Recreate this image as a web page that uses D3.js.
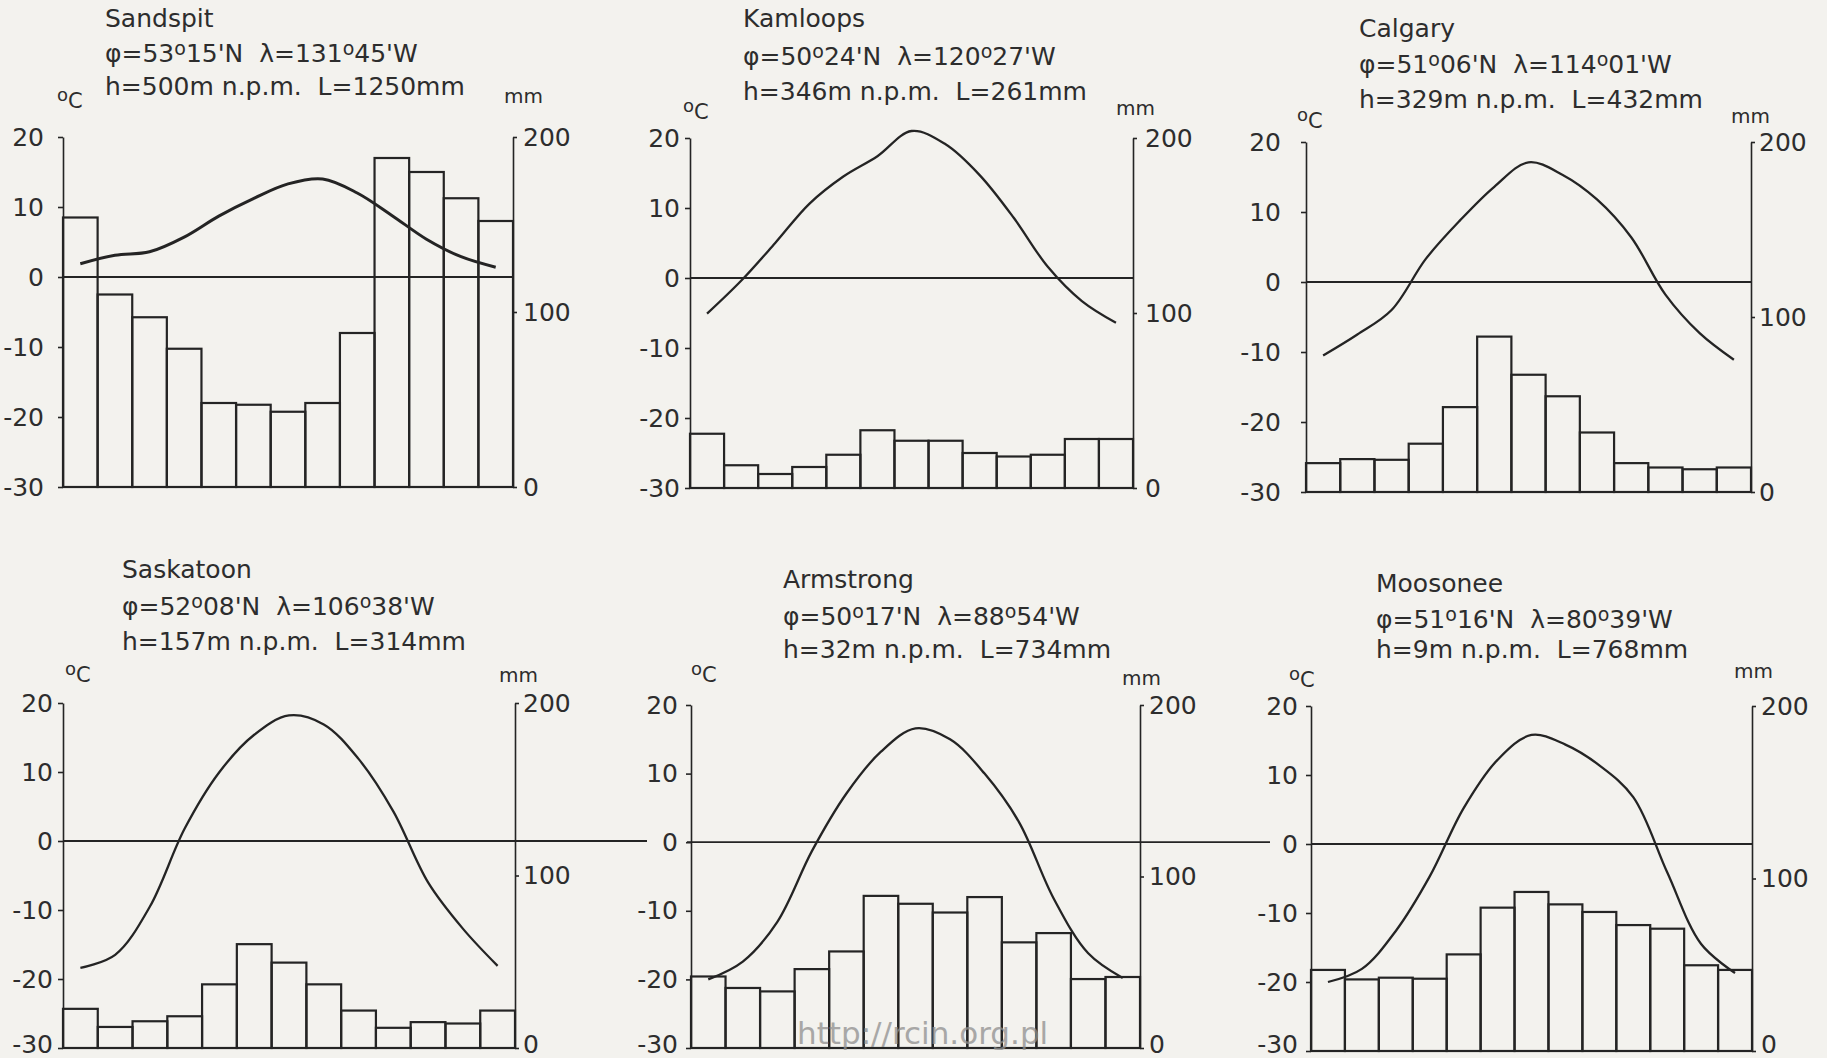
<!DOCTYPE html>
<html>
<head>
<meta charset="utf-8">
<script src="https://cdn.jsdelivr.net/npm/d3@7"></script>
<style>
  body { margin: 0; background: #f3f2ee; }
  svg { display: block; }
  text { font-family: "DejaVu Sans", sans-serif; fill: #2d2d2d; white-space: pre; }
</style>
</head>
<body>
<script>
/**
 * Climate diagrams, six Canadian stations
 * 13 monthly columns each (Jan .. Dec, then Jan again), temperature curve on top
 */
var W = 1827, H = 1058;

// ---- data ----
var stations = ["Sandspit", "Kamloops", "Calgary", "Saskatoon", "Armstrong", "Moosonee"];
var coordLines = [
  "φ=53°15'N  λ=131°45'W",
  "φ=50°24'N  λ=120°27'W",
  "φ=51°06'N  λ=114°01'W",
  "φ=52°08'N  λ=106°38'W",
  "φ=50°17'N  λ=88°54'W",
  "φ=51°16'N  λ=80°39'W"
];
var heightLines = [
  "h=500m n.p.m.  L=1250mm",
  "h=346m n.p.m.  L=261mm",
  "h=329m n.p.m.  L=432mm",
  "h=157m n.p.m.  L=314mm",
  "h=32m n.p.m.  L=734mm",
  "h=9m n.p.m.  L=768mm"
];
var months = ["I", "II", "III", "IV", "V", "VI", "VII", "VIII", "IX", "X", "XI", "XII", "I"];

// temperature, deg C
var sandspitTemp  = [1.9, 3.1, 3.6, 5.7, 8.7, 11.2, 13.3, 14.0, 12.0, 8.8, 5.4, 2.9, 1.4];
var kamloopsTemp  = [-5.1, -0.4, 5.0, 10.6, 14.5, 17.4, 21.0, 19.1, 14.7, 8.6, 1.6, -3.3, -6.4];
var calgaryTemp   = [-10.5, -7.5, -4.0, 3.3, 8.8, 13.6, 17.1, 15.3, 11.8, 6.4, -1.8, -7.3, -11.1];
var saskatoonTemp = [-18.4, -16.5, -9.5, 1.8, 10.0, 15.4, 18.2, 16.9, 11.9, 4.3, -6.0, -12.7, -18.1];
var armstrongTemp = [-20.0, -17.4, -11.6, -1.3, 7.1, 13.2, 16.6, 15.0, 10.0, 2.9, -8.2, -16.2, -19.8];
var moosoneeTemp  = [-20.0, -18.1, -12.6, -4.7, 5.2, 12.2, 15.8, 14.4, 11.4, 6.8, -4.1, -14.5, -18.7];

// precipitation, mm
var sandspitPrec  = [154, 110, 97, 79, 48, 47, 43, 48, 88, 188, 180, 165, 152];
var kamloopsPrec  = [31, 13, 8, 12, 19, 33, 27, 27, 20, 18, 19, 28, 28];
var calgaryPrec   = [16.5, 18.8, 18.4, 27.6, 48.5, 88.8, 67, 54.7, 34, 16.5, 14, 13, 14];
var saskatoonPrec = [22.7, 12.2, 15.5, 18.4, 36.9, 60.2, 49.5, 36.9, 21.7, 11.7, 15, 14.2, 21.7];
var armstrongPrec = [41.7, 35, 33, 46, 56.3, 88.7, 84.1, 79, 88, 61.6, 67, 40.2, 41.4];
var moosoneePrec  = [47, 41.5, 42.5, 41.9, 56, 83.1, 92.2, 85, 80.6, 73, 70.9, 49.7, 47];

var temps = [sandspitTemp, kamloopsTemp, calgaryTemp, saskatoonTemp, armstrongTemp, moosoneeTemp];
var precs = [sandspitPrec, kamloopsPrec, calgaryPrec, saskatoonPrec, armstrongPrec, moosoneePrec];

var tempTicks = [20, 10, 0, -10, -20, -30];
var precTicks = [200, 100, 0];

// ---- layout (pixels), one entry per panel ----
var layout = [
  {left: 63,   right: 513,  top: 137, bottom: 487,  hx: 105,  hy: [27, 62, 95],    cx: 57,   cy: 108, mx: 504,  my: 103, lpad: 14, rpad: 6,  z0: 63,   z1: 513,  lw: 3},
  {left: 690,  right: 1133, top: 138, bottom: 488,  hx: 743,  hy: [27, 65, 100],   cx: 683,  cy: 119, mx: 1116, my: 115, lpad: 5,  rpad: 8,  z0: 690,  z1: 1133, lw: 2.3},
  {left: 1306, right: 1751, top: 142, bottom: 492,  hx: 1359, hy: [37, 73, 108],   cx: 1297, cy: 128, mx: 1731, my: 123, lpad: 20, rpad: 4,  z0: 1306, z1: 1751, lw: 2.3},
  {left: 63,   right: 515,  top: 703, bottom: 1048, hx: 122,  hy: [578, 615, 650], cx: 65,   cy: 682, mx: 499,  my: 682, lpad: 5,  rpad: 4,  z0: 63,   z1: 647,  lw: 2.3},
  {left: 691,  right: 1140, top: 705, bottom: 1048, hx: 783,  hy: [588, 625, 658], cx: 691,  cy: 682, mx: 1122, my: 685, lpad: 8,  rpad: 5,  z0: 687,  z1: 1270, lw: 2.3},
  {left: 1311, right: 1752, top: 706, bottom: 1051, hx: 1376, hy: [592, 628, 658], cx: 1289, cy: 687, mx: 1734, my: 678, lpad: 8,  rpad: 5,  z0: 1311, z1: 1752, lw: 2.3}
];

var ink = "#242424";

var svg = d3.select("body").append("svg")
  .attr("width", W)
  .attr("height", H);

svg.append("rect").attr("width", W).attr("height", H).attr("fill", "#f3f2ee");

// text with raised small "o" in place of the degree sign
function degreeText(sel, str, big) {
  str.split("°").forEach(function(part, i) {
    if (i > 0) {
      sel.append("tspan").attr("font-size", Math.round(big * 0.76)).attr("dy", -big * 0.3).text("o");
    }
    sel.append("tspan").attr("font-size", big).attr("dy", i > 0 ? big * 0.3 : 0).text(part);
  });
}

// plain hyphen minus, as on the original
var fmt = function(d) { return String(d); };

stations.forEach(function(name, k) {
  var L = layout[k];
  var g = svg.append("g");

  var x = d3.scaleBand()
    .domain(d3.range(months.length))
    .range([L.left, L.right])
    .padding(0);
  var yT = d3.scaleLinear().domain([-30, 20]).range([L.bottom, L.top]);
  var yP = d3.scaleLinear().domain([0, 200]).range([L.bottom, L.top]);

  // header
  g.append("text").attr("x", L.hx).attr("y", L.hy[0]).attr("font-size", 25).text(name);
  var t2 = g.append("text").attr("x", L.hx).attr("y", L.hy[1]);
  degreeText(t2, coordLines[k], 25);
  g.append("text").attr("x", L.hx).attr("y", L.hy[2]).attr("font-size", 25).text(heightLines[k]);

  // units
  var u = g.append("text").attr("x", L.cx).attr("y", L.cy);
  u.append("tspan").attr("font-size", 18).attr("dy", -7).text("o");
  u.append("tspan").attr("font-size", 21).attr("dy", 7).text("C");
  g.append("text").attr("x", L.mx).attr("y", L.my).attr("font-size", 20).text("mm");

  // precipitation columns
  g.selectAll(".bar")
    .data(precs[k])
    .enter()
    .append("rect")
    .attr("class", "bar")
    .attr("x", function(d, i) { return x(i); })
    .attr("y", function(d) { return yP(d); })
    .attr("width", x.bandwidth())
    .attr("height", function(d) { return yP(0) - yP(d); })
    .attr("fill", "none")
    .attr("stroke", ink)
    .attr("stroke-width", 2.2);

  // 0 deg line
  g.append("line")
    .attr("x1", L.z0).attr("x2", L.z1)
    .attr("y1", yT(0)).attr("y2", yT(0))
    .attr("stroke", ink).attr("stroke-width", 1.8);

  // base line
  g.append("line")
    .attr("x1", L.left).attr("x2", L.right)
    .attr("y1", yT(-30)).attr("y2", yT(-30))
    .attr("stroke", ink).attr("stroke-width", 2.2);

  // temperature curve
  var line = d3.line()
    .x(function(d, i) { return x(i) + x.bandwidth() / 2; })
    .y(function(d) { return yT(d); })
    .curve(d3.curveCatmullRom.alpha(0.5));
  g.append("path")
    .datum(temps[k])
    .attr("d", line)
    .attr("fill", "none")
    .attr("stroke", ink)
    .attr("stroke-width", L.lw)
    .attr("stroke-linejoin", "round");

  // axes
  var left = g.append("g")
    .attr("transform", "translate(" + L.left + ",0)")
    .call(d3.axisLeft(yT).tickValues(tempTicks).tickFormat(fmt)
      .tickSizeInner(5).tickSizeOuter(0).tickPadding(L.lpad));
  var right = g.append("g")
    .attr("transform", "translate(" + L.right + ",0)")
    .call(d3.axisRight(yP).tickValues(precTicks).tickFormat(fmt)
      .tickSizeInner(4).tickSizeOuter(0).tickPadding(L.rpad));

  [left, right].forEach(function(a) {
    a.select(".domain").attr("stroke", ink).attr("stroke-width", 1.6);
    a.selectAll(".tick line").attr("stroke", ink).attr("stroke-width", 1.6);
    a.selectAll(".tick text")
      .attr("font-size", 25)
      .attr("font-family", "DejaVu Sans, sans-serif")
      .attr("fill", "#2d2d2d");
  });

  // bottom row sits on the page edge: lift the lowest labels so they stay inside
  if (L.bottom > H - 20) {
    var lift = (0.32 - (L.bottom - (H - 14)) / 25).toFixed(2) + "em";
    left.selectAll(".tick text").filter(function(d) { return d === -30; }).attr("dy", lift);
    right.selectAll(".tick text").filter(function(d) { return d === 0; }).attr("dy", lift);
  }
});

// scan watermark
svg.append("text")
  .attr("x", 797)
  .attr("y", 1044)
  .attr("font-size", 31)
  .style("fill", "#8f8f8f")
  .attr("opacity", 0.75)
  .text("http://rcin.org.pl");
</script>
</body>
</html>
